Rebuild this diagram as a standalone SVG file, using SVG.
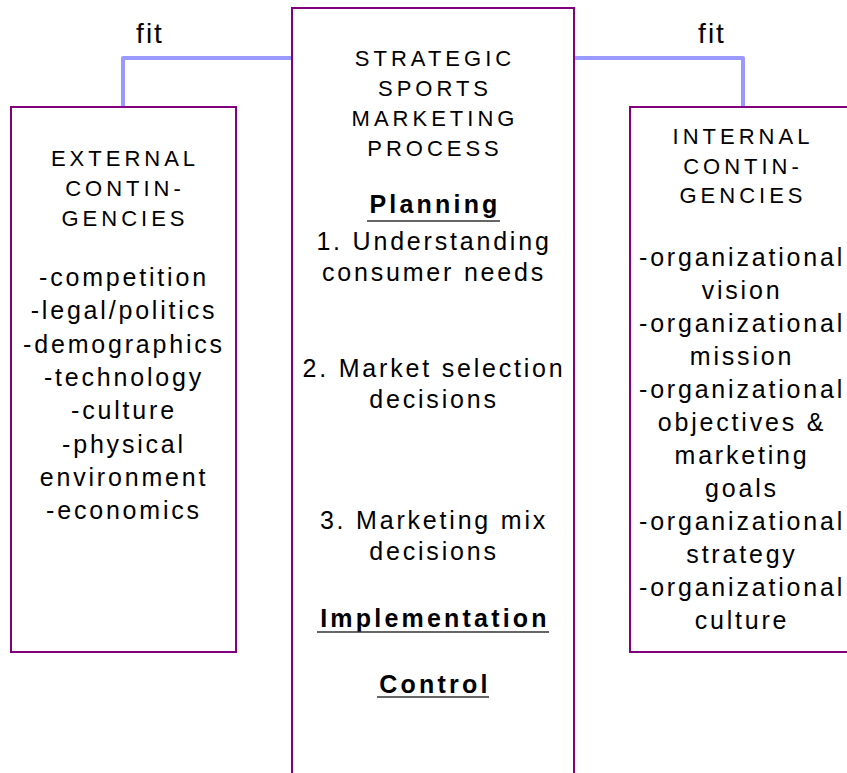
<svg xmlns="http://www.w3.org/2000/svg" width="847" height="773" viewBox="0 0 847 773">
<style>
.box{fill:#fff;stroke:#800080;stroke-width:2}
.conn{fill:none;stroke:#9999ff;stroke-width:4;stroke-linejoin:round;stroke-linecap:round}
.t{font-family:"Liberation Sans",Arial,sans-serif;fill:#000;text-anchor:middle}
.hd{font-size:22px;letter-spacing:4px}
.bd{font-size:25px;letter-spacing:2.8px}
.bb{font-size:25px;letter-spacing:3.2px;font-weight:bold}
.fit{font-size:28px;letter-spacing:2px}
.ul{stroke:#333;stroke-width:1.6}
</style>
<rect width="847" height="773" fill="#fff"/>
<g id="connectors">
<polyline class="conn" points="292,58 123,58 123,107"/>
<polyline class="conn" points="574,58 743,58 743,107"/>
<text class="t fit" x="150" y="43">fit</text>
<text class="t fit" x="712" y="43">fit</text>
</g>
<g id="external">
<rect class="box" x="11" y="107" width="225" height="545"/>
<text class="t hd" x="125" y="166">EXTERNAL</text>
<text class="t hd" x="125" y="196">CONTIN-</text>
<text class="t hd" x="125" y="226">GENCIES</text>
<text class="t bd" x="124" y="286">-competition</text>
<text class="t bd" x="124" y="319">-legal/politics</text>
<text class="t bd" x="124" y="353">-demographics</text>
<text class="t bd" x="124" y="386">-technology</text>
<text class="t bd" x="124" y="419">-culture</text>
<text class="t bd" x="124" y="453">-physical</text>
<text class="t bd" x="124" y="486">environment</text>
<text class="t bd" x="124" y="519">-economics</text>
</g>
<g id="process">
<rect class="box" x="292" y="8" width="282" height="780"/>
<text class="t hd" x="435" y="66">STRATEGIC</text>
<text class="t hd" x="435" y="96">SPORTS</text>
<text class="t hd" x="435" y="126">MARKETING</text>
<text class="t hd" x="435" y="156">PROCESS</text>
<text class="t bb" x="435" y="213">Planning</text>
<line class="ul" x1="367" y1="221" x2="500" y2="221"/>
<text class="t bd" x="434" y="250">1. Understanding</text>
<text class="t bd" x="434" y="281">consumer needs</text>
<text class="t bd" x="434" y="377">2. Market selection</text>
<text class="t bd" x="434" y="408">decisions</text>
<text class="t bd" x="434" y="529">3. Marketing mix</text>
<text class="t bd" x="434" y="560">decisions</text>
<text class="t bb" x="435" y="627">Implementation</text>
<line class="ul" x1="317" y1="632" x2="549" y2="632"/>
<text class="t bb" x="435" y="693">Control</text>
<line class="ul" x1="377" y1="697" x2="489" y2="697"/>
</g>
<g id="internal">
<rect class="box" x="630" y="107" width="240" height="545"/>
<text class="t hd" x="743" y="144">INTERNAL</text>
<text class="t hd" x="743" y="174">CONTIN-</text>
<text class="t hd" x="743" y="203">GENCIES</text>
<text class="t bd" x="742" y="266">-organizational</text>
<text class="t bd" x="742" y="299">vision</text>
<text class="t bd" x="742" y="332">-organizational</text>
<text class="t bd" x="742" y="365">mission</text>
<text class="t bd" x="742" y="398">-organizational</text>
<text class="t bd" x="742" y="431">objectives &amp;</text>
<text class="t bd" x="742" y="464">marketing</text>
<text class="t bd" x="742" y="497">goals</text>
<text class="t bd" x="742" y="530">-organizational</text>
<text class="t bd" x="742" y="563">strategy</text>
<text class="t bd" x="742" y="596">-organizational</text>
<text class="t bd" x="742" y="629">culture</text>
</g>
</svg>
